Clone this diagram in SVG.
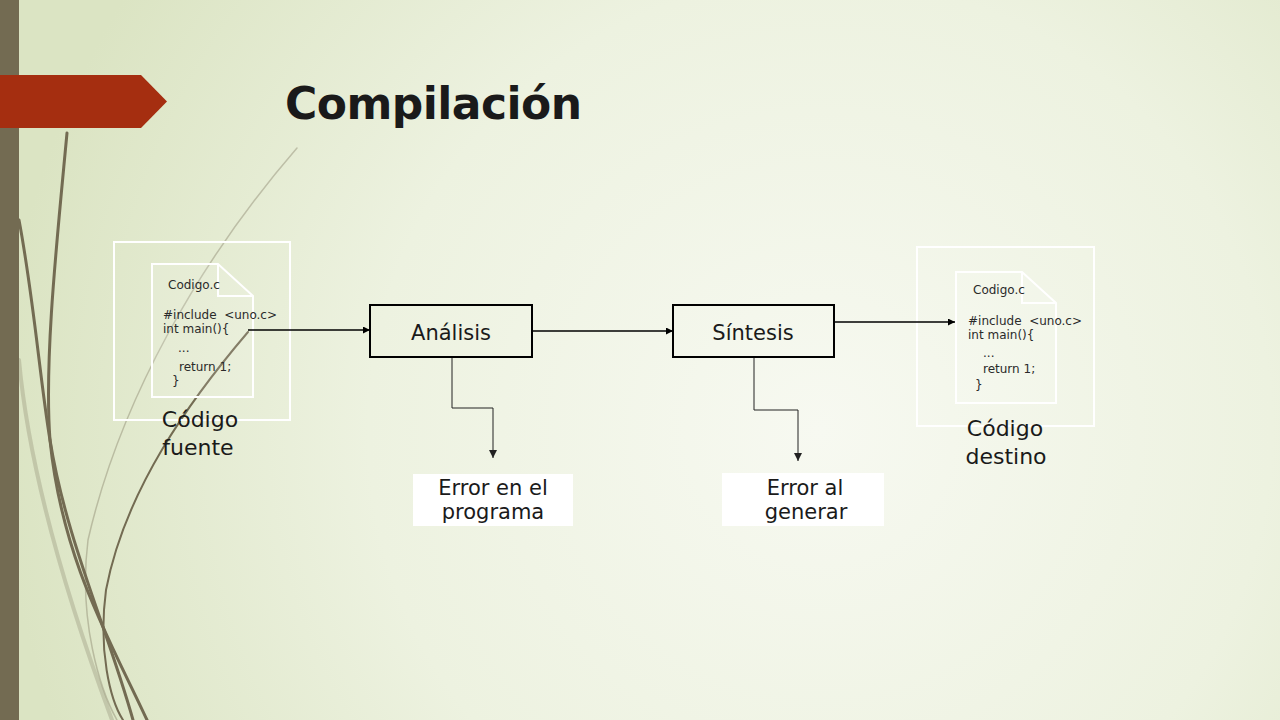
<svg xmlns="http://www.w3.org/2000/svg" width="1280" height="720" viewBox="0 0 1280 720">
<defs>
<radialGradient id="bg" cx="820" cy="430" r="820" gradientUnits="userSpaceOnUse">
<stop offset="0" stop-color="#f7f9f1"/>
<stop offset="0.55" stop-color="#edf2e0"/>
<stop offset="1" stop-color="#dbe4c3"/>
</radialGradient>
<marker id="ah" viewBox="0 0 10 10" refX="10" refY="5" markerWidth="7" markerHeight="7" markerUnits="userSpaceOnUse" orient="auto">
<path d="M0 0 L10 5 L0 10 Z" fill="#000"/>
</marker>
<marker id="ahg" viewBox="0 0 10 10" refX="10" refY="5" markerWidth="8" markerHeight="8" markerUnits="userSpaceOnUse" orient="auto">
<path d="M0 0 L10 5 L0 10 Z" fill="#222"/>
</marker>
</defs>
<style>
.t{font-family:"DejaVu Sans","Liberation Sans",sans-serif;fill:#1a1a1a}
.code{font-family:"DejaVu Sans","Liberation Sans",sans-serif;font-size:12px;fill:#2a2a2a}
.big{font-size:22px;text-anchor:middle}
.lbl{font-size:21px;text-anchor:middle}
.box{fill:none;stroke:#000;stroke-width:2}
.frame{fill:none;stroke:#ffffff;stroke-width:2}
.doc{fill:#ffffff;fill-opacity:0.12;stroke:#ffffff;stroke-width:2}
.conn{fill:none;stroke:#000;stroke-width:1.3}
.err{fill:none;stroke:#222;stroke-width:1}
.curve{fill:none;stroke:#736b52;stroke-linecap:round}
</style>
<rect x="0" y="0" width="1280" height="720" fill="url(#bg)"/>
<g id="decor">
<path class="curve" d="M19 360 C 28 460, 60 580, 112 720" stroke-width="4" stroke-opacity="0.25"/>
<path class="curve" d="M297 148 C 200 260, 120 400, 88 540 C 78 620, 100 690, 117 720" stroke-width="1.5" stroke-opacity="0.35"/>
<path class="curve" d="M67 133 C 57 240, 44 360, 50 440 C 62 560, 110 640, 147 720" stroke-width="3"/>
<path class="curve" d="M19 220 C 34 300, 40 380, 50 440 C 66 540, 108 630, 133 720" stroke-width="3"/>
<path class="curve" d="M248 332 C 190 400, 125 490, 106 590 C 98 650, 110 700, 123 720" stroke-width="2"/>
</g>
<rect x="0" y="0" width="19" height="720" fill="#736b52"/>
<polygon points="0,75 141,75 167,101.5 141,128 0,128" fill="#a52e10"/>
<text class="t" x="285" y="119" font-size="44" font-weight="bold" textLength="297" fill="#2a2a2a">Compilación</text>

<g id="codigo-fuente">
<rect class="frame" x="114" y="242" width="176" height="178"/>
<path class="doc" d="M152 264 H218 L253 296 V397 H152 Z"/>
<path class="frame" d="M218 264 V296 H253"/>
<text class="code" x="168" y="289">Codigo.c</text>
<text class="code" x="163" y="319" xml:space="preserve">#include  &lt;uno.c&gt;</text>
<text class="code" x="163" y="333">int main(){</text>
<text class="code" x="178" y="352">...</text>
<text class="code" x="179" y="371">return 1;</text>
<text class="code" x="172" y="385">}</text>
<text class="t big" x="200" y="427">Código</text>
<text class="t big" x="198" y="455">fuente</text>
</g>

<g id="analisis">
<rect class="box" x="370" y="305" width="162" height="52"/>
<text class="t lbl" x="451" y="340">Análisis</text>
</g>

<g id="sintesis">
<rect class="box" x="673" y="305" width="161" height="52"/>
<text class="t lbl" x="753" y="340">Síntesis</text>
</g>

<g id="codigo-destino">
<rect class="frame" x="917" y="247" width="177" height="179"/>
<path class="doc" d="M956 272 H1022 L1056 303 V403 H956 Z"/>
<path class="frame" d="M1022 272 V303 H1056"/>
<text class="code" x="973" y="294">Codigo.c</text>
<text class="code" x="968" y="325" xml:space="preserve">#include  &lt;uno.c&gt;</text>
<text class="code" x="968" y="339">int main(){</text>
<text class="code" x="983" y="357">...</text>
<text class="code" x="983" y="373">return 1;</text>
<text class="code" x="975" y="389">}</text>
<text class="t big" x="1005" y="436">Código</text>
<text class="t big" x="1006" y="464">destino</text>
</g>

<g id="error-analisis">
<rect x="413" y="474" width="160" height="52" fill="#ffffff"/>
<text class="t lbl" x="493" y="495">Error en el</text>
<text class="t lbl" x="493" y="519">programa</text>
</g>

<g id="error-sintesis">
<rect x="722" y="473" width="162" height="53" fill="#ffffff"/>
<text class="t lbl" x="805" y="495">Error al</text>
<text class="t lbl" x="806" y="519">generar</text>
</g>

<g id="connectors">
<line class="conn" x1="248" y1="330" x2="370" y2="330" marker-end="url(#ah)"/>
<line class="conn" x1="532" y1="331" x2="673" y2="331" marker-end="url(#ah)"/>
<line class="conn" x1="834" y1="322" x2="955" y2="322" marker-end="url(#ah)"/>
<path class="err" d="M452 358 V408 H493 V458" marker-end="url(#ahg)"/>
<path class="err" d="M754 358 V410 H798 V461" marker-end="url(#ahg)"/>
</g>
</svg>
